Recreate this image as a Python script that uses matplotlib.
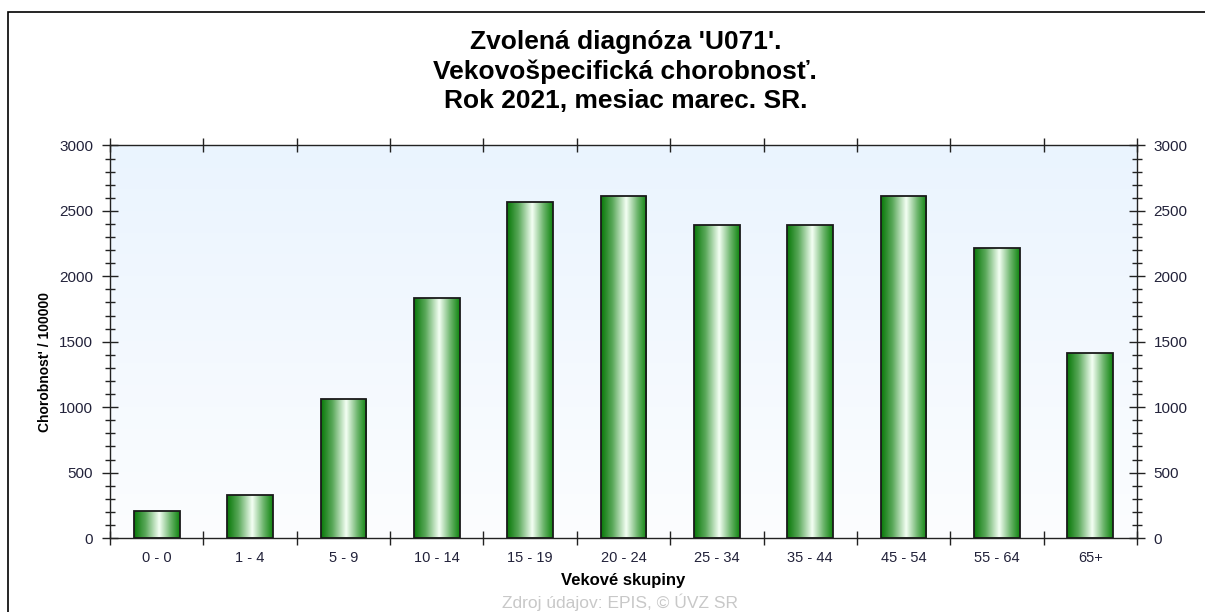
import numpy as np
import matplotlib
matplotlib.use("Agg")
import matplotlib.pyplot as plt
from matplotlib.colors import LinearSegmentedColormap
from matplotlib.patches import Rectangle
from matplotlib.ticker import MultipleLocator

plt.rcParams["font.family"] = ["Liberation Sans", "DejaVu Sans"]

# ── Data ──────────────────────────────────────────────────────────────────────
categories = ["0 - 0", "1 - 4", "5 - 9", "10 - 14", "15 - 19", "20 - 24",
              "25 - 34", "35 - 44", "45 - 54", "55 - 64", "65+"]
values = [208, 325, 1066, 1837, 2565, 2615, 2395, 2395, 2615, 2218, 1411]

title_lines = ["Zvolená diagnóza 'U071'.",
               "Vekovošpecifická chorobnosť.",
               "Rok 2021, mesiac marec. SR."]
xlabel = "Vekové skupiny"
ylabel = "Chorobnost' / 100000"
source = "Zdroj údajov: EPIS, © ÚVZ SR"

# ── Plot ──────────────────────────────────────────────────────────────────────
fig = plt.figure(figsize=(12.05, 6.12), dpi=100)
fig.patch.set_facecolor("white")
fig.patches.append(Rectangle((8 / 1205, -0.1), 1.2, 1 - 12 / 612 + 0.1,
                             transform=fig.transFigure, fill=False,
                             edgecolor="black", lw=1.2))

ax = fig.add_axes([110 / 1205, 74 / 612, 1027 / 1205, 392.5 / 612])
x = np.arange(len(categories))
ax.set_xlim(-0.5, len(categories) - 0.5)
ax.set_ylim(0, 3000)

# background gradient (bluish at top, near white at bottom)
bg = LinearSegmentedColormap.from_list("bg", ["#eaf4fe", "#fcfdff"])
ax.imshow(np.linspace(0, 1, 256).reshape(-1, 1), cmap=bg, aspect="auto",
          extent=[-0.5, len(categories) - 0.5, 0, 3000], zorder=0)

# bars with horizontal gradient
bar_cm = LinearSegmentedColormap.from_list(
    "bar", [(0.0, "#087808"), (0.25, "#5aa85a"), (0.55, "#f4fff4"),
            (0.8, "#6ab46a"), (1.0, "#0f840f")])
grad = np.linspace(0, 1, 256).reshape(1, -1)
bars = ax.bar(x, values, width=0.49, facecolor="none",
              edgecolor="#1a1a1a", lw=1.3, zorder=3)
for b in bars:
    im = ax.imshow(grad, cmap=bar_cm, aspect="auto", zorder=2,
                   extent=[b.get_x(), b.get_x() + b.get_width(),
                           0, b.get_height()])
    im.set_clip_path(b)

# axes styling
for s in ax.spines.values():
    s.set_color("#222222")
    s.set_linewidth(1.0)

ax.set_xticks(x)
ax.set_xticklabels(categories)
ax.set_xticks(np.arange(-0.5, len(categories) + 0.5), minor=True)
ax.tick_params(axis="x", which="major", length=0, pad=9,
               labelsize=10.5, labelcolor="#22223a")
ax.tick_params(axis="x", which="minor", direction="inout", length=10,
               top=True, bottom=True, width=1.0, color="#222222")

ax.yaxis.set_major_locator(MultipleLocator(500))
ax.yaxis.set_minor_locator(MultipleLocator(100))
ax.tick_params(axis="y", which="major", direction="inout", length=12,
               width=1.0, left=True, right=True, labelleft=True,
               labelright=True, labelsize=11, labelcolor="#22223a",
               color="#222222", pad=6)
ax.tick_params(axis="y", which="minor", direction="inout", length=7,
               width=1.0, left=True, right=True, color="#222222")

ax.set_xlabel(xlabel, fontsize=12, fontweight="bold", labelpad=6)
fig.text(45 / 1205, 1 - 362 / 612, ylabel, rotation=90, ha="center",
         va="center", fontsize=10, fontweight="bold")

for i, line in enumerate(title_lines):
    fig.text(0.519, 1 - (42 + 29.5 * i) / 612, line, ha="center",
             va="center", fontsize=19, fontweight="bold")
fig.text(620 / 1205, 1 - 602 / 612, source, ha="center", va="center",
         fontsize=12.5, color="#c8c8c8")

fig.savefig("out.png", dpi=100)
plt.close(fig)
